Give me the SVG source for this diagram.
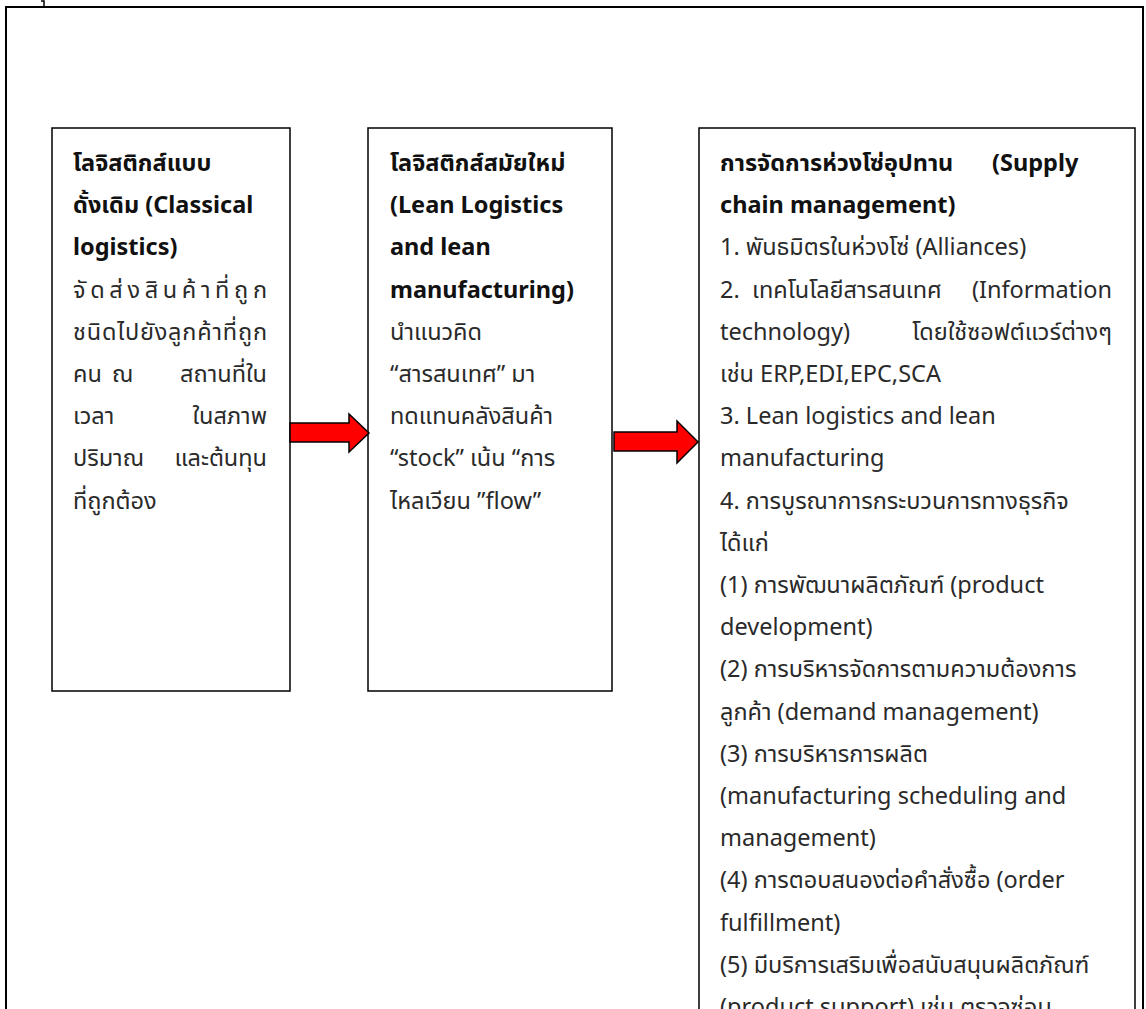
<svg xmlns="http://www.w3.org/2000/svg" width="1146" height="1009" viewBox="0 0 1146 1009">
<style>
.box{fill:#fff;stroke:#000;stroke-width:1.5}
.frame{fill:none;stroke:#000;stroke-width:2}
.arrow{fill:#ff0000;stroke:#000;stroke-width:1.5;stroke-linejoin:miter}
text{font-family:"Noto Sans","Noto Sans Thai","Noto Sans Thai UI",sans-serif;font-size:23.5px;fill:#2a2a2a}
.b{font-weight:bold;fill:#111}
</style>
<rect width="1146" height="1009" fill="#fff"/>
<rect class="frame" x="6" y="7" width="1137" height="1020"/>
<path d="M41 1 L44 1 L44 6" fill="none" stroke="#000" stroke-width="1.5"/>
<g id="node-classical">
<rect class="box" x="52" y="128" width="238" height="563"/>
<text class="b" x="73" y="171">โลจิสติกส์แบบ</text>
<text class="b" x="73" y="213.2">ดั้งเดิม (Classical</text>
<text class="b" x="73" y="255.4">logistics)</text>
<text x="73" y="297.6" textLength="194" lengthAdjust="spacing">จัดส่งสินค้าที่ถูก</text>
<text x="73" y="339.8" textLength="194" lengthAdjust="spacing">ชนิดไปยังลูกค้าที่ถูก</text>
<text y="382"><tspan x="73">คน</tspan><tspan x="112">ณ</tspan><tspan x="267" text-anchor="end">สถานที่ใน</tspan></text>
<text y="424.2"><tspan x="73">เวลา</tspan><tspan x="267" text-anchor="end">ในสภาพ</tspan></text>
<text y="466.4"><tspan x="73">ปริมาณ</tspan><tspan x="267" text-anchor="end">และต้นทุน</tspan></text>
<text x="73" y="508.6">ที่ถูกต้อง</text>
</g>
<g id="node-lean">
<rect class="box" x="368" y="128" width="244" height="563"/>
<text class="b" x="390" y="171">โลจิสติกส์สมัยใหม่</text>
<text class="b" x="390" y="213.2">(Lean Logistics</text>
<text class="b" x="390" y="255.4">and lean</text>
<text class="b" x="390" y="297.6">manufacturing)</text>
<text x="390" y="339.8">นำแนวคิด</text>
<text x="390" y="382">“สารสนเทศ” มา</text>
<text x="390" y="424.2">ทดแทนคลังสินค้า</text>
<text x="390" y="466.4">“stock” เน้น “การ</text>
<text x="390" y="508.6">ไหลเวียน ”flow”</text>
</g>
<g id="node-scm">
<rect class="box" x="699" y="128" width="436" height="900"/>
<text class="b" y="171"><tspan x="720">การจัดการห่วงโซ่อุปทาน</tspan><tspan x="992">(Supply</tspan></text>
<text class="b" x="720" y="213.2">chain management)</text>
<text x="720" y="255.4">1. พันธมิตรในห่วงโซ่ (Alliances)</text>
<text y="297.6"><tspan x="720">2.</tspan><tspan x="752">เทคโนโลยีสารสนเทศ</tspan><tspan x="1112" text-anchor="end">(Information</tspan></text>
<text y="339.8"><tspan x="720">technology)</tspan><tspan x="1112" text-anchor="end">โดยใช้ซอฟต์แวร์ต่างๆ</tspan></text>
<text x="720" y="382">เช่น ERP,EDI,EPC,SCA</text>
<text x="720" y="424.2">3. Lean logistics and lean</text>
<text x="720" y="466.4">manufacturing</text>
<text x="720" y="508.6">4. การบูรณาการกระบวนการทางธุรกิจ</text>
<text x="720" y="550.8">ได้แก่</text>
<text x="720" y="593">(1) การพัฒนาผลิตภัณฑ์ (product</text>
<text x="720" y="635.2">development)</text>
<text x="720" y="677.4">(2) การบริหารจัดการตามความต้องการ</text>
<text x="720" y="719.6">ลูกค้า (demand management)</text>
<text x="720" y="761.8">(3) การบริหารการผลิต</text>
<text x="720" y="804">(manufacturing scheduling and</text>
<text x="720" y="846.2">management)</text>
<text x="720" y="888.4">(4) การตอบสนองต่อคำสั่งซื้อ (order</text>
<text x="720" y="930.6">fulfillment)</text>
<text x="720" y="972.8">(5) มีบริการเสริมเพื่อสนับสนุนผลิตภัณฑ์</text>
<text x="720" y="1015">(product support) เช่น ตรวจซ่อม</text>
</g>
<g id="connectors">
<polygon class="arrow" points="290,423 349,423 349,414 369,433 349,452 349,442 290,442"/>
<polygon class="arrow" points="614,432 677,432 677,421 698,442 677,463 677,451 614,451"/>
</g>
</svg>
